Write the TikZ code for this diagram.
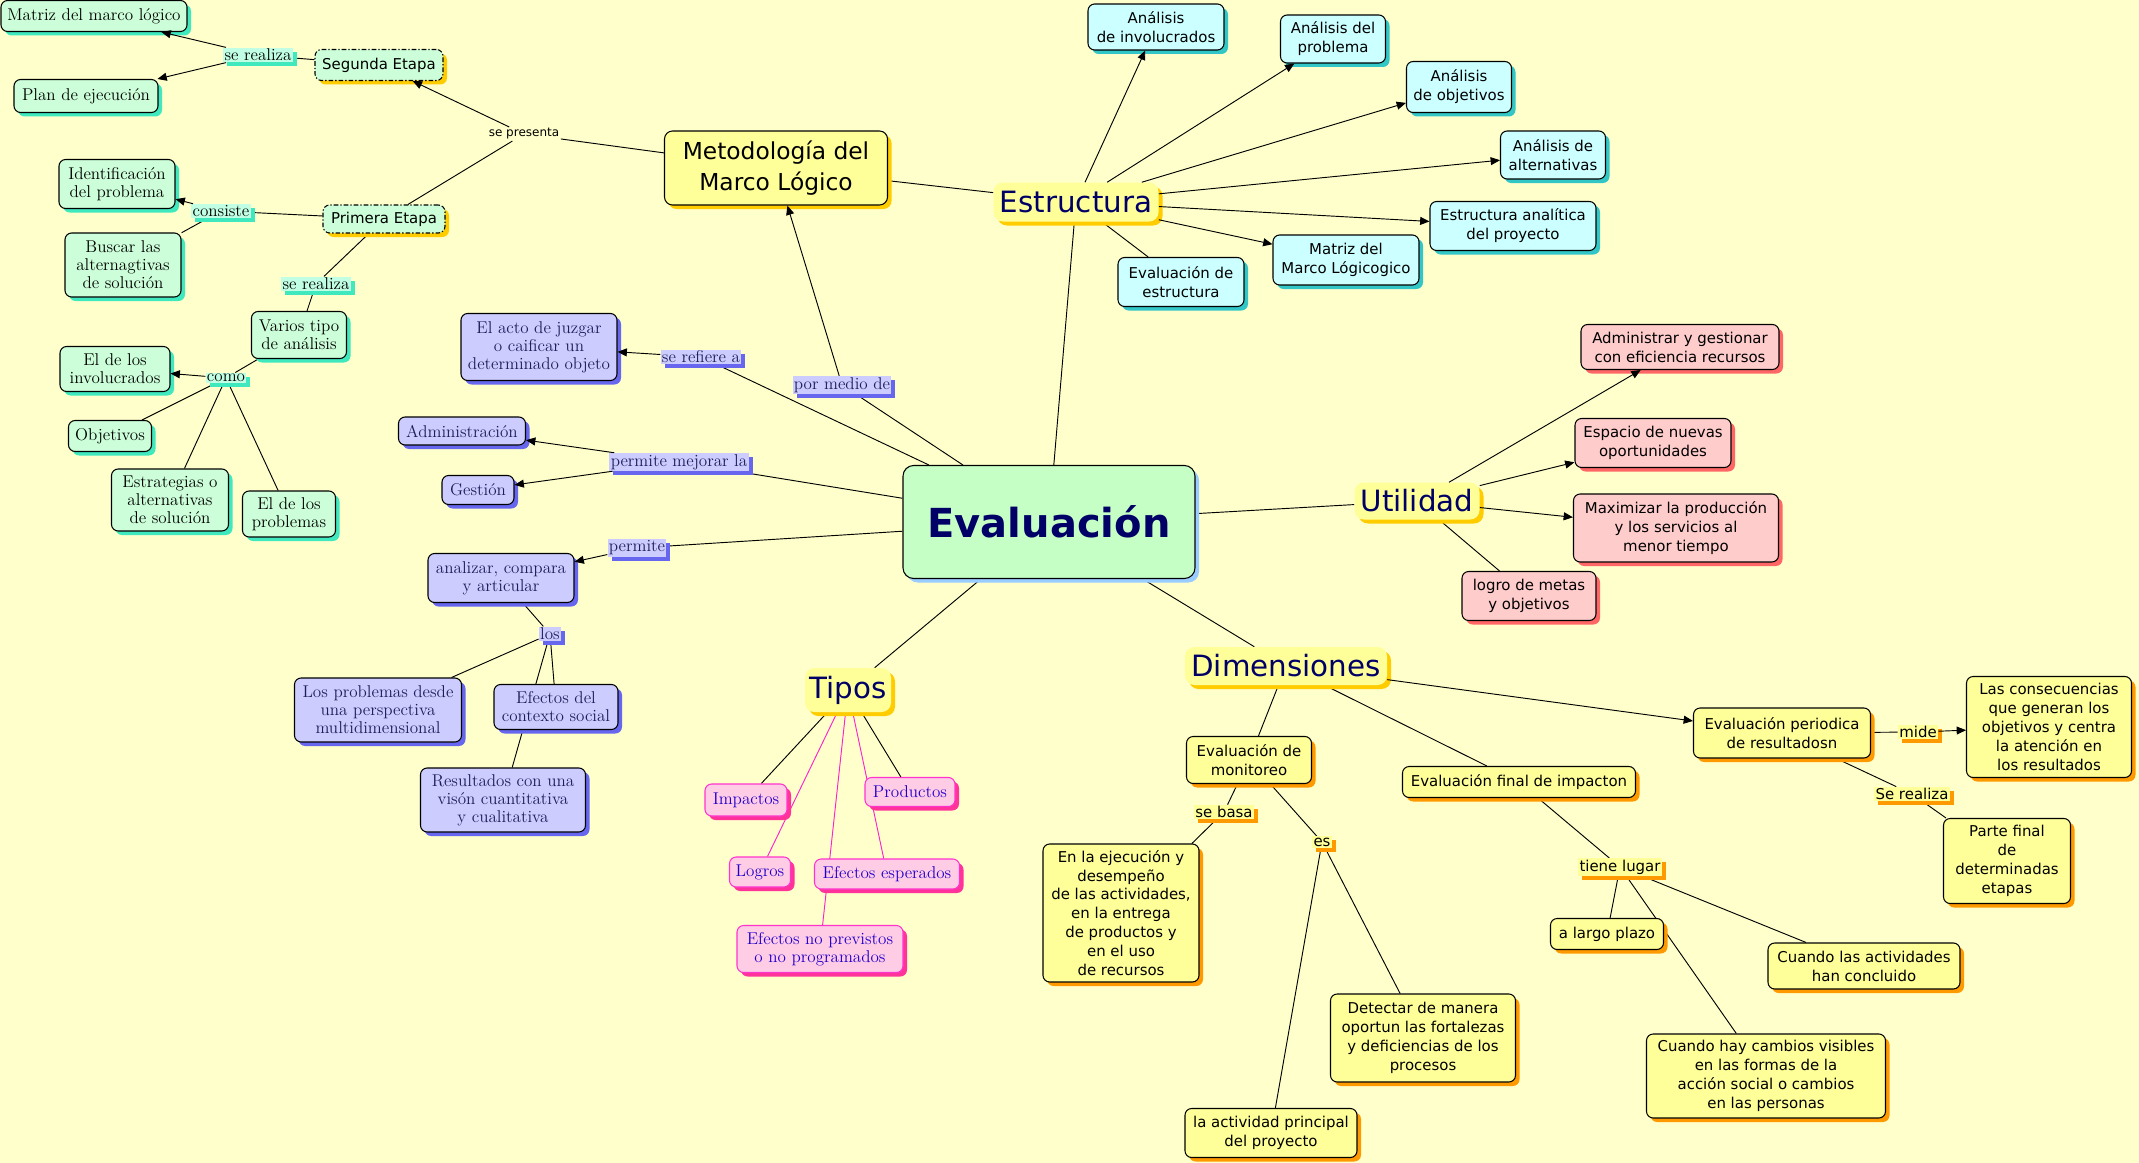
\documentclass[tikz,border=0pt]{standalone}
\usepackage{fontspec}
\newfontfamily\vsans{DejaVu Sans}
\usetikzlibrary{shadows,arrows.meta,backgrounds}
\definecolor{bgc}{HTML}{FFFFCC}
\definecolor{gfill}{HTML}{CCFFD9}
\definecolor{gsh}{HTML}{40E8BE}
\definecolor{glfill}{HTML}{C0FFE4}
\definecolor{bfill}{HTML}{CCCCFF}
\definecolor{bsh}{HTML}{6666EE}
\definecolor{btext}{HTML}{1E1E5A}
\definecolor{pfill}{HTML}{FFCCE6}
\definecolor{pdraw}{HTML}{FF33CC}
\definecolor{psh}{HTML}{FF3399}
\definecolor{ptext}{HTML}{2200CC}
\definecolor{cfill}{HTML}{CCFFFF}
\definecolor{csh}{HTML}{33C6C6}
\definecolor{rfill}{HTML}{FFCCCC}
\definecolor{rsh}{HTML}{FF6666}
\definecolor{yfill}{HTML}{FFFF99}
\definecolor{ysh}{HTML}{FF9900}
\definecolor{goldc}{HTML}{FFCC00}
\definecolor{navyc}{HTML}{000066}
\definecolor{efill}{HTML}{C6FFC6}
\definecolor{esh}{HTML}{99CCFF}
\definecolor{magc}{HTML}{FF22CC}
\newcommand\serf{\fontsize{12.8}{13.4}\selectfont}
\newcommand\sns{\vsans\fontsize{11.2}{14.2}\selectfont}
\newcommand\snsbig{\vsans\fontsize{22}{26}\selectfont}
\newcommand\snsmet{\vsans\fontsize{17.5}{23}\selectfont}
\newcommand\snslab{\vsans\fontsize{9}{11}\selectfont}
\newcommand\snsev{\vsans\bfseries\fontsize{30}{34}\selectfont}
\tikzset{
 sz/.style 2 args={minimum width=#1*0.75pt, minimum height=#2*0.75pt},
 shd/.style={drop shadow={shadow xshift=3pt,shadow yshift=-3pt,fill=#1,opacity=1}},
 box/.style={rounded corners=5pt, draw=black, line width=0.8pt, align=center, inner sep=1.5pt},
 gbox/.style={box, fill=gfill, shd=gsh, font=\serf},
 gsbox/.style={box, fill=gfill, shd=goldc, font=\sns, dash pattern=on 3.5pt off 1.5pt on 1pt off 1.5pt},
 glbl/.style={fill=glfill, shd=gsh, font=\serf, inner sep=1pt},
 bbox/.style={box, fill=bfill, shd=bsh, font=\serf, text=btext},
 blbl/.style={fill=bfill, shd=bsh, font=\serf, text=btext, inner sep=1pt},
 pbox/.style={box, draw=pdraw, fill=pfill, shd=psh, font=\serf, text=ptext},
 cbox/.style={box, fill=cfill, shd=csh, font=\sns},
 rbox/.style={box, fill=rfill, shd=rsh, font=\sns},
 ybox/.style={box, fill=yfill, shd=ysh, font=\sns},
 ylbl/.style={fill=yfill, shd=ysh, font=\sns, inner sep=1pt},
 bigl/.style={rounded corners=7pt, fill=yfill, shd=goldc, font=\snsbig, text=navyc, inner sep=2pt},
 ln/.style={line width=0.7pt, draw=black},
 ar/.style={ln, -{Triangle[length=7pt,width=6pt]}},
 mg/.style={line width=0.7pt, draw=magc},
}
\begin{document}
\begin{tikzpicture}[x=0.75pt,y=-0.75pt]
\useasboundingbox (0,0) rectangle (2139,1163);
% ---- left green cluster
\node[gbox, sz={186}{31}] (matriz) at (94,16) {Matriz del marco lógico};
\node[gsbox, sz={128}{31}] (seg) at (379,65) {Segunda Etapa};
\node[gbox, sz={144}{33}] (plan) at (86,96) {Plan de ejecución};
\node[glbl] (lsr1) at (258,55) {se realiza};
\node[font=\snslab, inner sep=1pt] (lsp) at (524,134) {se presenta};
\node[gbox, sz={116}{49}] (ident) at (117,184) {Identificación\\del problema};
\node[glbl] (lcons) at (221,211) {consiste};
\node[gsbox, sz={122}{28}] (prim) at (384,219) {Primera Etapa};
\node[gbox, sz={116}{64}] (buscar) at (123,265) {Buscar las\\alternagtivas\\de solución};
\node[glbl] (lsr2) at (316,284) {se realiza};
\node[gbox, sz={95}{47}] (varios) at (299,335) {Varios tipo\\de análisis};
\node[gbox, sz={110}{45}] (invol) at (115,369) {El de los\\involucrados};
\node[glbl] (lcomo) at (226,378) {como};
\node[gbox, sz={83}{31}] (objet) at (110,436) {Objetivos};
\node[gbox, sz={117}{62}] (estrat) at (170,500) {Estrategias o\\alternativas\\de solución};
\node[gbox, sz={93}{46}] (problem) at (289,514) {El de los\\problemas};
% ---- metodologia
\node[box, fill=yfill, shd=goldc, font=\snsmet, sz={223}{74}, rounded corners=6pt] (met) at (776,168) {Metodología del\\Marco Lógico};
% ---- blue cluster
\node[bbox, sz={156}{67}] (acto) at (539,347) {El acto de juzgar\\o caificar un\\determinado objeto};
\node[blbl] (lref) at (701,357) {se refiere a};
\node[blbl] (lpor) at (842,385) {por medio de};
\node[bbox, sz={127}{28}] (admin) at (462,431) {Administración};
\node[bbox, sz={72}{29}] (gest) at (478,490) {Gestión};
\node[blbl] (lpm) at (679,462) {permite mejorar la};
\node[blbl] (lperm) at (637,548) {permite};
\node[bbox, sz={146}{49}] (anal) at (501,578) {analizar, compara\\y articular};
\node[blbl] (llos) at (550,634) {los};
\node[bbox, sz={167}{64}] (losprob) at (378,710) {Los problemas desde\\una perspectiva\\multidimensional};
\node[bbox, sz={124}{45}] (efec) at (556,707) {Efectos del\\contexto social};
\node[bbox, sz={165}{64}] (result) at (503,800) {Resultados con una\\visón cuantitativa\\y cualitativa};
% ---- center
\node[box, fill=efill, shd=esh, font=\snsev, text=navyc, sz={292}{113}, rounded corners=8pt] (ev) at (1049,522) {Evaluación};
% ---- tipos
\node[bigl, sz={86}{44}] (tipos) at (848,690) {Tipos};
\node[pbox, sz={82}{32}] (imp) at (746,800) {Impactos};
\node[pbox, sz={90}{29}] (prod) at (910,792) {Productos};
\node[pbox, sz={61}{30}] (logros) at (760,872) {Logros};
\node[pbox, sz={145}{30}] (efesp) at (887,874) {Efectos esperados};
\node[pbox, sz={166}{47}] (efnop) at (820,949) {Efectos no previstos\\o no programados};
% ---- estructura
\node[bigl, sz={165}{39}] (estr) at (1076,202) {Estructura};
\node[cbox, sz={136}{46}] (ainv) at (1156,27) {Análisis\\de involucrados};
\node[cbox, sz={105}{48}] (aprob) at (1333,39) {Análisis del\\problema};
\node[cbox, sz={105}{51}] (aobj) at (1459,87) {Análisis\\de objetivos};
\node[cbox, sz={105}{48}] (aalt) at (1553,155) {Análisis de\\alternativas};
\node[cbox, sz={166}{49}] (eap) at (1513,226) {Estructura analítica\\del proyecto};
\node[cbox, sz={146}{50}] (mml) at (1346,260) {Matriz del\\Marco Lógicogico};
\node[cbox, sz={126}{49}] (eest) at (1181,282) {Evaluación de\\estructura};
% ---- utilidad
\node[bigl, sz={125}{37}] (util) at (1417,501) {Utilidad};
\node[rbox, sz={198}{45}] (adm2) at (1680,347) {Administrar y gestionar\\con eficiencia recursos};
\node[rbox, sz={156}{49}] (esp) at (1653,443) {Espacio de nuevas\\oportunidades};
\node[rbox, sz={205}{68}] (maxi) at (1676,528) {Maximizar la producción\\y los servicios al\\menor tiempo};
\node[rbox, sz={134}{49}] (logro) at (1529,596) {logro de metas\\y objetivos};
% ---- dimensiones
\node[bigl, sz={202}{38}] (dim) at (1286,666) {Dimensiones};
\node[ybox, sz={125}{47}] (mon) at (1249,760) {Evaluación de\\monitoreo};
\node[ylbl] (lbasa) at (1224,812) {se basa};
\node[ylbl] (les) at (1322,842) {es};
\node[ybox, sz={156}{138}] (ejec) at (1121,913) {En la ejecución y\\desempeño\\de las actividades,\\en la entrega\\de productos y\\en el uso\\de recursos};
\node[ybox, sz={185}{88}] (detect) at (1423,1038) {Detectar de manera\\oportun las fortalezas\\y deficiencias de los\\procesos};
\node[ybox, sz={172}{49}] (activ) at (1271,1133) {la actividad principal\\del proyecto};
\node[ybox, sz={233}{31}] (final) at (1519,782) {Evaluación final de impacton};
\node[ylbl] (ltiene) at (1620,867) {tiene lugar};
\node[ybox, sz={113}{31}] (largo) at (1607,934) {a largo plazo};
\node[ybox, sz={192}{46}] (concl) at (1864,966) {Cuando las actividades\\han concluido};
\node[ybox, sz={239}{84}] (camb) at (1766,1076) {Cuando hay cambios visibles\\en las formas de la\\acción social o cambios\\en las personas};
\node[ybox, sz={177}{50}] (period) at (1782,733) {Evaluación periodica\\de resultadosn};
\node[ylbl] (lmide) at (1918,732) {mide};
\node[ybox, sz={165}{101}] (conseq) at (2049,727) {Las consecuencias\\que generan los\\objetivos y centra\\la atención en\\los resultados};
\node[ylbl] (lser) at (1912,794) {Se realiza};
\node[ybox, sz={127}{85}] (parte) at (2007,861) {Parte final\\de\\determinadas\\etapas};
% ---- plain connectors (behind)
\begin{scope}[on background layer]
\fill[bgc] (0,0) rectangle (2139,1163);
\draw[ln] (ev) -- (lpor);
\draw[ln] (ev) -- (lref);
\draw[ln] (ev) -- (lpm);
\draw[ln] (ev) -- (lperm);
\draw[ln] (anal) -- (llos);
\draw[ln] (llos) -- (losprob);
\draw[ln] (llos) -- (efec);
\draw[ln] (llos) -- (result);
\draw[ln] (ev) -- (estr);
\draw[ln] (ev) -- (util);
\draw[ln] (ev) -- (tipos);
\draw[ln] (ev) -- (dim);
\draw[ln] (met) -- (estr);
\draw[ln] (met) -- (lsp);
\draw[ln] (lsp) -- (prim);
\draw[ln] (seg) -- (lsr1);
\draw[ln] (prim) -- (lcons);
\draw[ln] (lcons) -- (buscar);
\draw[ln] (prim) -- (lsr2);
\draw[ln] (lsr2) -- (varios);
\draw[ln] (varios) -- (lcomo);
\draw[ln] (lcomo) -- (objet);
\draw[ln] (lcomo) -- (estrat);
\draw[ln] (lcomo) -- (problem);
\draw[ln] (tipos) -- (imp);
\draw[ln] (tipos) -- (prod);
\draw[mg] (tipos) -- (logros);
\draw[mg] (tipos) -- (efesp);
\draw[mg] (tipos) -- (efnop);
\draw[ln] (estr) -- (eest);
\draw[ln] (util) -- (logro);
\draw[ln] (dim) -- (mon);
\draw[ln] (dim) -- (final);
\draw[ln] (mon) -- (lbasa);
\draw[ln] (lbasa) -- (ejec);
\draw[ln] (mon) -- (les);
\draw[ln] (les) -- (detect);
\draw[ln] (les) -- (activ);
\draw[ln] (final) -- (ltiene);
\draw[ln] (ltiene) -- (largo);
\draw[ln] (ltiene) -- (concl);
\draw[ln] (ltiene) -- (camb);
\draw[ln] (period) -- (lmide);
\draw[ln] (period) -- (lser);
\draw[ln] (lser) -- (parte);
\end{scope}
% ---- arrows (on top)
\draw[ar] (lpor) -- (met);
\draw[ar] (lref) -- (acto);
\draw[ar] (lpm) -- (admin);
\draw[ar] (lpm) -- (gest);
\draw[ar] (lperm) -- (anal);
\draw[ar] (lsp) -- (seg);
\draw[ar] (lsr1) -- (matriz);
\draw[ar] (lsr1) -- (plan);
\draw[ar] (lcons) -- (ident);
\draw[ar] (lcomo) -- (invol);
\draw[ar] (estr) -- (ainv);
\draw[ar] (estr) -- (aprob);
\draw[ar] (estr) -- (aobj);
\draw[ar] (estr) -- (aalt);
\draw[ar] (estr) -- (eap);
\draw[ar] (estr) -- (mml);
\draw[ar] (util) -- (adm2);
\draw[ar] (util) -- (esp);
\draw[ar] (util) -- (maxi);
\draw[ar] (dim) -- (period);
\draw[ar] (lmide) -- (conseq);
\end{tikzpicture}
\end{document}
